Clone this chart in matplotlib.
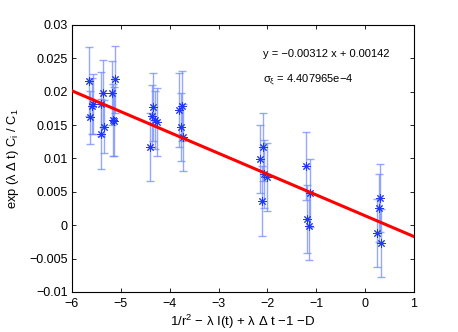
import matplotlib
matplotlib.use("Agg")
import matplotlib.pyplot as plt
import numpy as np

plt.rcParams['font.family'] = ['Liberation Sans', 'DejaVu Sans']
plt.rcParams['mathtext.fontset'] = 'custom'
plt.rcParams['mathtext.rm'] = 'Liberation Sans'
plt.rcParams['mathtext.it'] = 'Liberation Sans:italic'

# data
x_vals = [-5.658, -5.632, -5.591, -5.560, -5.359, -5.413, -5.400, -5.345, -5.181, -5.167, -5.126, -5.140,
          -4.404, -4.336, -4.363, -4.295, -4.267,
          -3.804, -3.749, -3.775, -3.734,
          -2.085, -2.146, -2.015, -2.060, -2.111,
          -1.211, -1.129, -1.184, -1.156,
          0.304, 0.277, 0.236, 0.330]
y_vals = [0.02157, 0.01617, 0.01791, 0.01817, 0.01977, 0.01812, 0.01367, 0.01477, 0.01977, 0.01577, 0.02187, 0.01557,
          0.01168, 0.01767, 0.01637, 0.01577, 0.01547,
          0.01727, 0.01787, 0.01477, 0.01318,
          0.01177, 0.00988, 0.00728, 0.00768, 0.00364,
          0.00892, 0.00479, 0.00098, -0.00011,
          0.00413, 0.00263, -0.00120, -0.00270]
y_err = [0.0052, 0.0040, 0.0042, 0.0045, 0.0050, 0.0048, 0.0052, 0.0040, 0.0048, 0.0054, 0.0050, 0.0052,
         0.0051, 0.0051, 0.0046, 0.0043, 0.0051,
         0.0056, 0.0052, 0.0051, 0.0050,
         0.0051, 0.0051, 0.0051, 0.0051, 0.0052,
         0.0051, 0.0051, 0.0051, 0.0051,
         0.0051, 0.0051, 0.0051, 0.0051]
fit_slope = -0.00312
fit_intercept = 0.00142
sigma_text = "4.407965e\u22124"
x_ticks = [-6, -5, -4, -3, -2, -1, 0, 1]
y_ticks = [-0.01, -0.005, 0, 0.005, 0.01, 0.015, 0.02, 0.025, 0.03]
y_tick_labels = ["\u22120.01", "\u22120.005", "0", "0.005", "0.01", "0.015", "0.02", "0.025", "0.03"]
x_tick_labels = ["\u22126", "\u22125", "\u22124", "\u22123", "\u22122", "\u22121", "0", "1"]

fig = plt.figure(figsize=(4.58, 3.32), dpi=100)
ax = fig.add_axes([0.157, 0.1205, 0.747, 0.8042])

ax.errorbar(x_vals, y_vals, yerr=y_err, fmt='none', ecolor=(0.42, 0.52, 1.0), alpha=0.7,
            elinewidth=1.0, capsize=3.2, capthick=1.0, zorder=2)
ax.plot(x_vals, y_vals, linestyle='none', marker=(8, 2, 0), markersize=6,
        markeredgecolor=(0.12, 0.22, 0.95), markerfacecolor='none', markeredgewidth=0.7, zorder=3)

xl = np.array([x_ticks[0], x_ticks[-1]], dtype=float)
ax.plot(xl, fit_slope * xl + fit_intercept, color=(1.0, 0.0, 0.0), linewidth=2.2, zorder=4)

ax.set_xlim(x_ticks[0], x_ticks[-1])
ax.set_ylim(y_ticks[0], y_ticks[-1])
ax.set_xticks(x_ticks)
ax.set_xticklabels(x_tick_labels)
ax.set_yticks(y_ticks)
ax.set_yticklabels(y_tick_labels)
ax.tick_params(direction='in', top=True, right=True, labelsize=9, length=3, width=0.6)
ax.tick_params(axis='x', pad=4)
ax.tick_params(axis='y', pad=3)
for s in ax.spines.values():
    s.set_linewidth(0.8)

ax.text(0.558, 0.890, "y = \u22120.00312 x + 0.00142", transform=ax.transAxes, fontsize=8, va='center')
ax.text(0.558, 0.794, "\u03c3$_\\mathregular{\u03be}$ = " + sigma_text, transform=ax.transAxes, fontsize=8, va='center')

xlabel = "1/r$^\\mathregular{2}$ \u2212 \u03bb I(t) + \u03bb \u0394 t \u22121 \u2212D"
ylabel = "exp (\u03bb \u0394 t) C$_\\mathregular{i}$ / C$_\\mathregular{1}$"
ax.set_xlabel(xlabel, fontsize=9.5, labelpad=2)
ax.set_ylabel(ylabel, fontsize=9.3, labelpad=6)

fig.savefig("out.png", dpi=100)
